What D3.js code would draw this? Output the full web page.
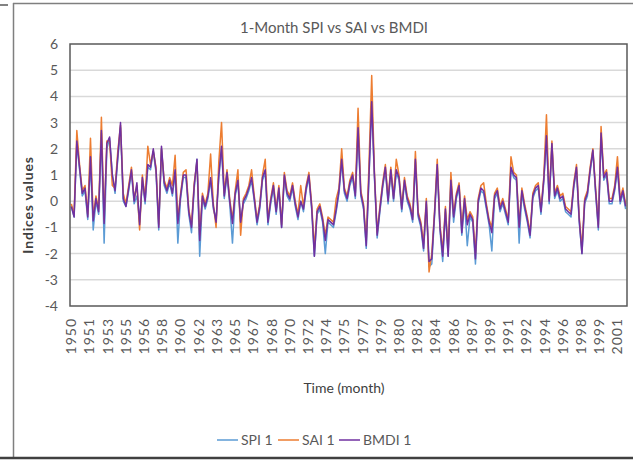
<!DOCTYPE html>
<html>
<head>
<meta charset="utf-8">
<title>1-Month SPI vs SAI vs BMDI</title>
<script src="https://cdn.jsdelivr.net/npm/d3@7/dist/d3.min.js"></script>
<style>
    body { margin: 0; background: #fff; }
    svg { display: block; font-family: Lato, "Open Sans", sans-serif; }
    .grid line { stroke: #d9d9d9; stroke-width: 1.5px; }
    .tick text { fill: #595959; }
    .series { fill: none; stroke-width: 1.5px; stroke-linejoin: round; }
</style>
</head>
<body>
<div id="vis"></div>
<script>
    // one value every 3 months, Jan 1950 onwards
    var monthsPerSample = 3, monthsPerLabel = 20;

    var yearLabels = ["1950", "1951", "1953", "1955", "1956", "1958", "1960", "1962", "1963", "1965",
        "1967", "1968", "1970", "1972", "1974", "1975", "1977", "1979", "1980", "1982",
        "1984", "1986", "1987", "1989", "1991", "1992", "1994", "1996", "1998", "1999", "2001"];

    var seriesNames = ["SPI 1", "SAI 1", "BMDI 1"];

    var spi = [-0.2, -0.6, 2.2, 1.2, 0.2, 0.4, -0.7, 1.5, -1.1, 0.0,
        -0.5, 2.6, -1.6, 2.0, 2.4, 1.0, 0.3, 1.6, 2.8, 0.0,
        -0.2, 0.4, 1.1, -0.1, 0.2, -0.8, 0.8, -0.1, 1.3, 1.2,
        1.9, 1.1, -1.1, 2.0, 0.6, 0.3, 0.7, 0.2, 1.1, -1.6,
        0.1, 0.9, 0.9, -0.5, -1.2, 0.5, 1.6, -2.1, 0.1, -0.3,
        0.1, 0.8, -0.3, -0.7, 0.9, 2.0, 0.1, 1.0, -0.1, -1.6,
        0.2, 0.7, -0.8, -0.1, 0.1, 0.4, 0.8, 0.0, -0.9, -0.3,
        0.8, 1.1, -0.9, -0.1, 0.5, -0.5, 0.4, -1.0, 0.9, 0.2,
        0.0, 0.5, -0.2, -0.7, 0.0, -0.4, 0.4, 0.9, -0.3, -2.1,
        -0.5, -0.3, -0.8, -2.0, -0.8, -0.9, -1.0, -0.4, 0.3, 1.5,
        0.3, 0.0, 0.6, 0.9, 0.1, 2.7, 0.2, -0.3, -1.8, 0.9,
        3.7, 0.9, -1.4, -0.4, 0.5, 1.2, -0.1, 1.1, 0.0, 1.1,
        0.8, -0.4, 0.7, 0.0, -0.3, -0.8, 1.5, -0.6, -1.0, -1.9,
        -0.1, -2.5, -2.4, -0.6, 1.3, -1.1, -2.3, -0.4, -2.1, 0.7,
        -0.8, 0.1, 0.5, -1.3, 0.0, -1.7, -0.6, -0.8, -2.4, -0.1,
        0.4, 0.3, -0.3, -0.9, -1.9, 0.1, 0.3, -0.4, -0.1, -0.5,
        -0.9, 1.2, 0.9, 0.8, -1.6, 0.3, -0.3, -0.8, -1.4, 0.1,
        0.4, 0.5, -0.5, 0.7, 2.4, -0.1, 2.1, 0.1, 0.4, 0.0,
        0.1, -0.4, -0.5, -0.6, 0.5, 1.2, -0.8, -2.0, -0.1, 0.2,
        1.1, 1.9, 0.3, -1.1, 2.5, 0.8, 1.0, -0.1, -0.1, 0.4,
        1.2, -0.1, 0.3, -0.3];

    var sai = [-0.1, -0.5, 2.7, 1.4, 0.4, 0.6, -0.5, 2.4, -0.6, 0.2,
        -0.3, 3.2, -0.7, 2.3, 2.3, 0.6, 0.5, 1.9, 2.9, 0.3,
        -0.1, 0.6, 1.3, 0.1, 0.6, -1.1, 1.0, 0.1, 2.1, 1.4,
        1.9, 1.3, -0.9, 2.0, 0.8, 0.5, 0.9, 0.6, 1.75, -0.7,
        0.3, 1.1, 1.2, -0.3, -0.9, 0.7, 1.5, -1.3, 0.3, -0.1,
        0.3, 1.8, -0.1, -1.0, 1.5, 3.0, 0.3, 1.2, 0.1, -0.7,
        0.4, 1.2, -1.3, 0.1, 0.3, 0.6, 1.2, 0.2, -0.7, -0.1,
        1.0, 1.6, -0.7, 0.1, 0.7, -0.3, 0.6, -0.9, 1.1, 0.4,
        0.2, 0.7, 0.0, -0.5, 0.6, -0.2, 0.6, 1.1, -0.1, -1.8,
        -0.3, -0.1, -0.6, -1.3, -0.6, -0.7, -0.8, 0.1, 0.5, 2.0,
        0.5, 0.2, 0.8, 1.1, 0.3, 3.55, 0.4, -0.1, -1.5, 1.4,
        4.8, 1.1, -1.2, -0.2, 0.7, 1.4, 0.1, 1.3, 0.2, 1.6,
        1.0, -0.2, 0.9, 0.2, -0.1, -0.6, 1.9, -0.4, -0.8, -1.6,
        0.1, -2.7, -2.0, -0.4, 1.6, -0.9, -1.9, -0.2, -1.9, 1.1,
        -0.5, 0.3, 0.7, -1.0, 0.2, -0.7, -0.4, -0.6, -2.0, 0.1,
        0.6, 0.7, -0.1, -0.7, -1.0, 0.3, 0.5, -0.2, 0.1, -0.3,
        -0.7, 1.7, 1.1, 1.0, -0.9, 0.5, -0.1, -0.6, -1.2, 0.3,
        0.6, 0.7, -0.3, 0.9, 3.3, 0.1, 2.3, 0.3, 0.6, 0.2,
        0.3, -0.2, -0.3, -0.4, 0.7, 1.4, -0.6, -1.8, 0.1, 0.4,
        1.3, 2.0, 0.5, -0.9, 2.85, 1.0, 1.2, 0.1, 0.1, 0.6,
        1.7, 0.1, 0.5, -0.1];

    var bmdi = [-0.2, -0.6, 2.3, 1.3, 0.3, 0.5, -0.6, 1.7, -0.75, 0.1,
        -0.4, 2.7, -0.85, 2.2, 2.45, 1.0, 0.4, 1.7, 3.0, 0.1,
        -0.2, 0.5, 1.2, 0.0, 0.7, -0.9, 0.9, 0.0, 1.4, 1.3,
        2.0, 1.2, -1.0, 2.1, 0.7, 0.4, 0.8, 0.3, 1.2, -0.85,
        0.2, 1.0, 1.0, -0.4, -1.0, 0.6, 1.6, -1.5, 0.2, -0.2,
        0.2, 0.9, -0.2, -0.8, 1.0, 2.1, 0.2, 1.1, 0.0, -0.85,
        0.3, 0.8, -0.8, 0.0, 0.2, 0.5, 0.9, 0.1, -0.8, -0.2,
        0.9, 1.2, -0.8, 0.0, 0.6, -0.4, 0.5, -1.0, 1.0, 0.3,
        0.1, 0.6, -0.1, -0.6, 0.0, -0.3, 0.5, 1.0, -0.2, -2.1,
        -0.4, -0.2, -0.7, -1.5, -0.7, -0.8, -0.9, -0.3, 0.4, 1.6,
        0.4, 0.1, 0.7, 1.0, 0.2, 2.8, 0.3, -0.2, -1.7, 1.0,
        3.8, 1.0, -1.3, -0.3, 0.6, 1.3, 0.0, 1.2, 0.1, 1.2,
        0.9, -0.3, 0.8, 0.1, -0.2, -0.7, 1.6, -0.5, -0.9, -1.8,
        0.0, -2.3, -2.2, -0.5, 1.4, -1.0, -2.1, -0.3, -2.1, 0.8,
        -0.6, 0.2, 0.6, -1.2, 0.1, -0.9, -0.5, -0.7, -2.2, 0.0,
        0.5, 0.4, -0.2, -0.8, -1.2, 0.2, 0.4, -0.3, 0.0, -0.4,
        -0.8, 1.3, 1.0, 0.9, -1.0, 0.4, -0.2, -0.7, -1.3, 0.2,
        0.5, 0.6, -0.4, 0.8, 2.5, 0.0, 2.2, 0.2, 0.5, 0.1,
        0.2, -0.3, -0.4, -0.5, 0.6, 1.3, -0.7, -2.0, 0.0, 0.3,
        1.2, 1.95, 0.4, -1.0, 2.6, 0.9, 1.1, 0.0, 0.0, 0.5,
        1.3, 0.0, 0.4, -0.2];

    var colors = ["#5b9bd5", "#ed7d31", "#7030a0"];

    var width = 633, height = 461;
    var plot = {left: 70, right: 627, top: 44, bottom: 306};

    var svg = d3.select("#vis").append("svg")
            .attr("width", width)
            .attr("height", height);

    // chart frame
    svg.append("line").attr("x1", 13.5).attr("x2", 13.5).attr("y1", 3).attr("y2", 458)
            .attr("stroke", "#7f7f7f").attr("stroke-width", 1.5);
    svg.append("line").attr("x1", 13).attr("x2", width).attr("y1", 3.5).attr("y2", 3.5)
            .attr("stroke", "#7f7f7f").attr("stroke-width", 1.5);
    svg.append("line").attr("x1", 0).attr("x2", width).attr("y1", 458).attr("y2", 458)
            .attr("stroke", "#404040").attr("stroke-width", 2.5);
    svg.append("line").attr("x1", 0).attr("x2", 8).attr("y1", 5).attr("y2", 5)
            .attr("stroke", "#595959").attr("stroke-width", 1.5);

    var x = d3.scaleLinear()
            .domain([0, spi.length])
            .range([plot.left, plot.right]);

    var y = d3.scaleLinear()
            .domain([-4, 6])
            .range([plot.bottom, plot.top]);

    // gridlines
    svg.append("g")
            .attr("class", "grid")
            .selectAll("line")
            .data(y.ticks(10).filter(function(d) { return d > -4 && d < 6; }))
            .enter()
            .append("line")
            .attr("x1", plot.left)
            .attr("x2", plot.right)
            .attr("y1", function(d) { return y(d); })
            .attr("y2", function(d) { return y(d); });

    // y axis (plain hyphen for negatives, like the original)
    var yAxis = svg.append("g")
            .attr("transform", "translate(" + plot.left + ",0)")
            .call(d3.axisLeft(y).ticks(10).tickSize(0).tickPadding(12)
                    .tickFormat(function(d) { return String(d); }));
    yAxis.select(".domain").remove();
    yAxis.selectAll("text").style("font-size", "14px").style("font-family", "Lato, sans-serif");

    // x tick labels, one every 20 months
    svg.append("g")
            .selectAll("text")
            .data(yearLabels)
            .enter()
            .append("text")
            .attr("class", "xlab")
            .attr("transform", function(d, i) {
        var px = x(i * monthsPerLabel / monthsPerSample + 0.5);
        return "translate(" + px + "," + (plot.bottom + 12) + ") rotate(-90)";
    })
            .attr("text-anchor", "end")
            .attr("dy", "0.35em")
            .attr("fill", "#595959")
            .style("font-size", "14px")
            .style("letter-spacing", "1px")
            .text(function(d) { return d; });

    // series lines
    var line = d3.line()
            .x(function(d, i) { return x(i + 0.5); })
            .y(function(d) { return y(d); });

    svg.selectAll(".series")
            .data([spi, sai, bmdi])
            .enter()
            .append("path")
            .attr("class", "series")
            .attr("stroke", function(d, i) { return colors[i]; })
            .attr("d", line);

    // plot border
    svg.append("rect")
            .attr("x", plot.left)
            .attr("y", plot.top)
            .attr("width", plot.right - plot.left)
            .attr("height", plot.bottom - plot.top)
            .attr("fill", "none")
            .attr("stroke", "#595959")
            .attr("stroke-width", 1.5);

    // titles
    svg.append("text")
            .attr("x", 334)
            .attr("y", 33)
            .attr("text-anchor", "middle")
            .attr("fill", "#595959")
            .style("font-size", "15px")
            .text("1-Month SPI vs SAI vs BMDI");

    svg.append("text")
            .attr("transform", "translate(33,205) rotate(-90)")
            .attr("text-anchor", "middle")
            .attr("fill", "#404040")
            .style("font-size", "14px")
            .style("font-weight", "bold")
            .style("letter-spacing", "0.8px")
            .text("Indices values");

    svg.append("text")
            .attr("x", 344)
            .attr("y", 393)
            .attr("text-anchor", "middle")
            .attr("fill", "#404040")
            .style("font-size", "14px")
            .text("Time (month)");

    // legend
    var legend = svg.selectAll(".legend")
            .data(seriesNames)
            .enter()
            .append("g")
            .attr("class", "legend")
            .attr("transform", function(d, i) {
        return "translate(" + (217 + i * 61) + ",440)";
    });
    legend.append("line")
            .attr("x1", 0).attr("x2", 21)
            .attr("stroke", function(d, i) { return colors[i]; })
            .attr("stroke-width", 1.5);
    legend.append("text")
            .attr("x", 24)
            .attr("dy", "0.35em")
            .attr("fill", "#595959")
            .style("font-size", "14px")
            .text(function(d) { return d; });
</script>
</body>
</html>
